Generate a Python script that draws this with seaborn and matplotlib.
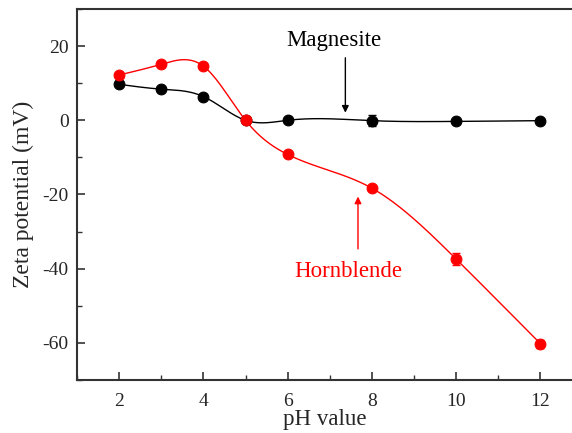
import numpy as np
import pandas as pd
import matplotlib
matplotlib.use("Agg")
import matplotlib.pyplot as plt
import seaborn as sns

ph = [2, 3, 4, 5, 6, 8, 10, 12]
magnesite = [9.7, 8.4, 6.4, 0.0, 0.0, -0.1, -0.3, -0.1]
magnesite_err = [0.5, 0.4, 0.5, 0.4, 0.4, 1.5, 0.5, 0.4]
hornblende = [12.2, 15.1, 14.6, 0.0, -9.2, -18.3, -37.4, -60.2]
hornblende_err = [0.5, 0.5, 0.6, 0.5, 0.5, 0.6, 1.6, 1.1]


def natural_spline(x, y, n=400):
    x = np.asarray(x, float)
    y = np.asarray(y, float)
    k = len(x)
    h = np.diff(x)
    A = np.zeros((k, k))
    b = np.zeros(k)
    A[0, 0] = A[-1, -1] = 1
    for i in range(1, k - 1):
        A[i, i - 1] = h[i - 1]
        A[i, i] = 2 * (h[i - 1] + h[i])
        A[i, i + 1] = h[i]
        b[i] = 6 * ((y[i + 1] - y[i]) / h[i] - (y[i] - y[i - 1]) / h[i - 1])
    M = np.linalg.solve(A, b)
    xs = np.linspace(x[0], x[-1], n)
    idx = np.clip(np.searchsorted(x, xs) - 1, 0, k - 2)
    x0, x1 = x[idx], x[idx + 1]
    hh = x1 - x0
    t1 = x1 - xs
    t0 = xs - x0
    ys = (M[idx] * t1 ** 3 + M[idx + 1] * t0 ** 3) / (6 * hh) \
        + (y[idx] / hh - M[idx] * hh / 6) * t1 \
        + (y[idx + 1] / hh - M[idx + 1] * hh / 6) * t0
    return xs, ys


sns.set_theme(style="ticks")
plt.rcParams['font.family'] = ['Liberation Serif', 'DejaVu Serif']
plt.rcParams['axes.unicode_minus'] = False

fig = plt.figure(figsize=(5.72, 4.33), dpi=100)
ax = fig.add_axes([77 / 572, 1 - 380 / 433, 495 / 572, 371 / 433])

for yv, err, col in [(magnesite, magnesite_err, 'black'), (hornblende, hornblende_err, 'red')]:
    xs, ys = natural_spline(ph, yv)
    sns.lineplot(x=xs, y=ys, ax=ax, color=col, lw=1.0, sort=False, estimator=None)
    ax.errorbar(ph, yv, yerr=err, fmt='none', ecolor=col, elinewidth=1.0, capsize=3, capthick=1.0, zorder=3)
    sns.scatterplot(x=ph, y=yv, ax=ax, color=col, s=60, edgecolor=col, linewidth=0.8, zorder=4)

ax.set_xlim(1, 12.75)
ax.set_ylim(-70, 30)
ax.set_xticks([2, 4, 6, 8, 10, 12])
ax.set_xticks(np.arange(1, 13, 1), minor=True)
ax.set_yticks([-60, -40, -20, 0, 20])
ax.set_yticks(np.arange(-70, 31, 10), minor=True)
ax.tick_params(which='major', direction='in', length=6, width=1.2, labelsize=14, color='#333333')
ax.tick_params(which='minor', direction='in', length=3.5, width=1.0, color='#333333')
ax.tick_params(axis='x', pad=9)
ax.tick_params(axis='y', pad=6)
for s in ['left', 'bottom', 'top']:
    ax.spines[s].set_linewidth(1.5)
    ax.spines[s].set_color('#333333')
ax.spines['right'].set_visible(False)

ax.set_xlabel('pH value', fontsize=16.5, labelpad=0)
ax.set_ylabel('Zeta potential (mV)', fontsize=17, labelpad=6)

ax.text(7.1, 21.5, 'Magnesite', fontsize=16.5, color='black', ha='center', va='center')
ax.annotate('', xy=(7.37, 1.3), xytext=(7.37, 17.6),
            arrowprops=dict(arrowstyle='-|>', color='black', lw=1.0, mutation_scale=10))
ax.text(7.45, -40.8, 'Hornblende', fontsize=16.5, color='red', ha='center', va='center')
ax.annotate('', xy=(7.67, -19.8), xytext=(7.67, -35.4),
            arrowprops=dict(arrowstyle='-|>', color='red', lw=1.0, mutation_scale=10))

fig.savefig('out.png', dpi=100)
